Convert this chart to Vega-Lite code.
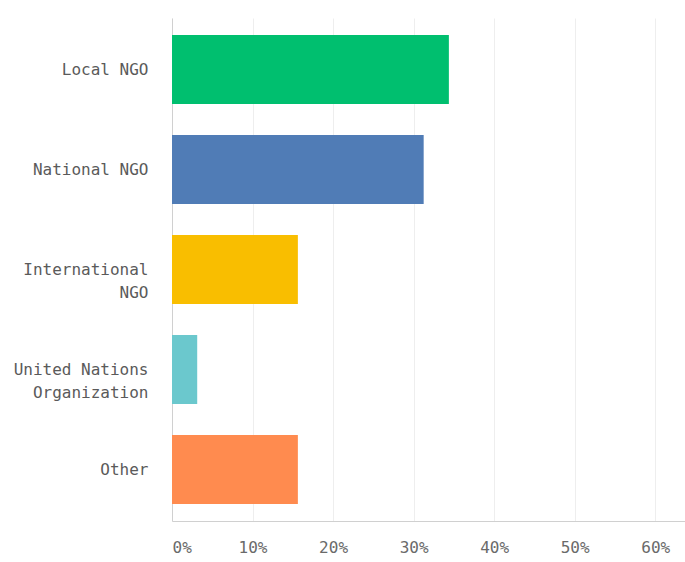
{
  "$schema": "https://vega.github.io/schema/vega-lite/v6.json",
  "autosize": "none",
  "width": 513,
  "height": 503,
  "padding": {"left": 172, "top": 18, "right": 0, "bottom": 41},
  "background": "white",
  "data": {
    "values": [
      {"choice": "Local NGO", "share": 0.3438},
      {"choice": "National NGO", "share": 0.3125},
      {"choice": "International NGO", "share": 0.1563},
      {"choice": "United Nations Organization", "share": 0.0313},
      {"choice": "Other", "share": 0.1563}
    ]
  },
  "mark": {"type": "bar"},
  "encoding": {
    "y": {
      "field": "choice",
      "type": "nominal",
      "sort": null,
      "scale": {"paddingInner": 0.31, "paddingOuter": 0.17},
      "axis": {
        "title": null,
        "ticks": false,
        "domain": true,
        "domainColor": "#d0d0d0",
        "labelFont": "DejaVu Sans Mono",
        "labelFontSize": 16,
        "labelColor": "#5a5a5a",
        "labelPadding": 24,
        "labelLineHeight": 23,
        "labelLimit": 200,
        "labelExpr": "datum.label == 'International NGO' ? ['International', 'NGO'] : datum.label == 'United Nations Organization' ? ['United Nations', 'Organization'] : datum.label"
      }
    },
    "x": {
      "field": "share",
      "type": "quantitative",
      "scale": {"domain": [0, 0.637], "nice": false},
      "axis": {
        "title": null,
        "values": [0, 0.1, 0.2, 0.3, 0.4, 0.5, 0.6],
        "format": ".0%",
        "ticks": false,
        "grid": true,
        "gridColor": "#eeeeee",
        "domainColor": "#d0d0d0",
        "labelFont": "DejaVu Sans Mono",
        "labelFontSize": 16,
        "labelColor": "#6a6a6a",
        "labelPadding": 18
      }
    },
    "color": {
      "field": "choice",
      "type": "nominal",
      "sort": null,
      "legend": null,
      "scale": {
        "domain": ["Local NGO", "National NGO", "International NGO", "United Nations Organization", "Other"],
        "range": ["#00BF6F", "#507CB6", "#F9BE00", "#6BC8CD", "#FF8B4F"]
      }
    }
  },
  "config": {"view": {"stroke": null}}
}
